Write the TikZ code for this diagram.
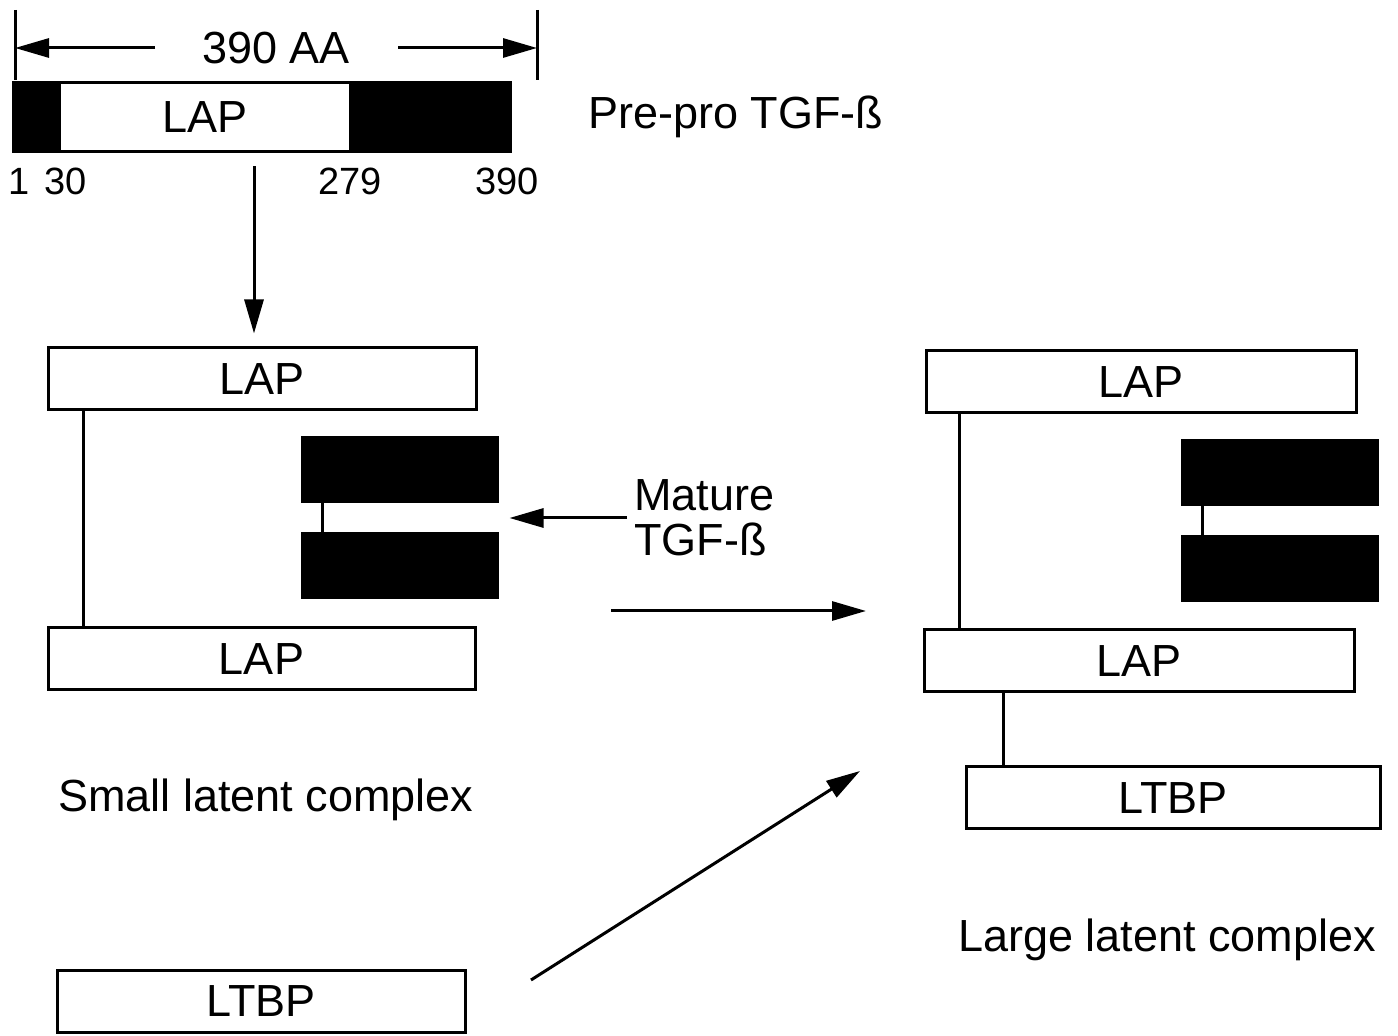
\documentclass[tikz,border=0pt]{standalone}
\usepackage{fontspec}
\setmainfont{Liberation Sans}
\usetikzlibrary{arrows.meta}
\begin{document}
\begin{tikzpicture}[x=0.5pt,y=-0.5pt,
  lw/.style={line width=1.5pt},
  box/.style={draw,lw,minimum height=31pt,inner sep=0pt,font=\fontsize{22.5}{27}\selectfont},
  blk/.style={draw,fill=black,lw,minimum width=97.5pt,minimum height=32pt,inner sep=0pt},
  lbl/.style={font=\fontsize{22.5}{27}\selectfont,inner sep=0pt},
  num/.style={font=\fontsize{19}{22}\selectfont,inner sep=0pt},
  arr/.style={lw,-{Triangle[length=17pt,width=9.5pt]}},
  conn/.style={lw}]
\useasboundingbox (0,0) rectangle (1398,1036);
% dimension line
\coordinate (tl1) at (15,10); \coordinate (tl2) at (15,80);
\coordinate (tr1) at (537,10); \coordinate (tr2) at (537,80);
\draw[conn] (tl1) -- (tl2);
\draw[conn] (tr1) -- (tr2);
\node[lbl] (aa) at (276,48) {390 AA};
\coordinate (al) at (155,48); \coordinate (ar) at (398,48);
\draw[arr] (al) -- (tl1 |- al);
\draw[arr] (ar) -- (tr1 |- ar);
% pre-pro bar
\node[draw,fill=black,lw,minimum width=248.5pt,minimum height=34.5pt,inner sep=0pt] (bar) at (261.5,117.5) {};
\node[fill=white,minimum width=144pt,minimum height=33pt,inner sep=0pt,font=\fontsize{22.5}{27}\selectfont] (lap0) at (205,117.5) {LAP};
\node[lbl,anchor=west] (pp) at (588,117) {Pre-pro TGF-ß};
\node[num] (n1) at (19,181) {1};
\node[num] (n30) at (66,181) {30};
\node[num] (n279) at (350,181) {279};
\node[num] (n390) at (507,181) {390};
% small latent complex
\node[box,minimum width=214pt] (lapTL) at (262,379) {LAP};
\node[blk] (bL1) at (399.5,470) {};
\node[blk] (bL2) at (399.5,566) {};
\node[box,minimum width=213.5pt] (lapBL) at (261.5,659) {LAP};
\coordinate (vx) at (254,0);
\draw[arr,shorten <=6.5pt,shorten >=6.5pt] (bar.south -| vx) -- (lapTL.north -| vx);
\coordinate (cl) at (83,0);
\draw[conn] (lapTL.south -| cl) -- (lapBL.north -| cl);
\coordinate (cb) at (322,0);
\draw[conn] (bL1.south -| cb) -- (bL2.north -| cb);
\node[lbl] (slc) at (266,800) {Small latent complex};
\node[box,minimum width=204pt] (ltbpL) at (261,1001) {LTBP};
% mature TGF-b
\node[lbl,anchor=west,align=left,font=\fontsize{22.5}{22.5}\selectfont] (mat) at (634,518) {Mature\\TGF-ß};
\coordinate (my) at (0,518);
\draw[arr,shorten >=5.5pt] (mat.west |- my) ++(-7,0) -- (bL1.east |- my);
% large latent complex
\node[box,minimum width=215pt] (lapTR) at (1141,382) {LAP};
\node[blk] (bR1) at (1279.5,473) {};
\node[blk] (bR2) at (1279.5,569) {};
\node[box,minimum width=215pt] (lapBR) at (1139,661) {LAP};
\node[box,minimum width=207pt] (ltbpR) at (1173,798) {LTBP};
\coordinate (cr) at (959,0);
\draw[conn] (lapTR.south -| cr) -- (lapBR.north -| cr);
\coordinate (cbr) at (1202,0);
\draw[conn] (bR1.south -| cbr) -- (bR2.north -| cbr);
\coordinate (cl2) at (1003,0);
\draw[conn] (lapBR.south -| cl2) -- (ltbpR.north -| cl2);
\node[lbl] (llc) at (1167,940) {Large latent complex};
% process arrows
\coordinate (h1) at (611,611); \coordinate (h2) at (866,611);
\draw[arr] (h1) -- (h2);
\coordinate (d1) at (531,980); \coordinate (d2) at (860,771);
\draw[arr] (d1) -- (d2);
\end{tikzpicture}
\end{document}
